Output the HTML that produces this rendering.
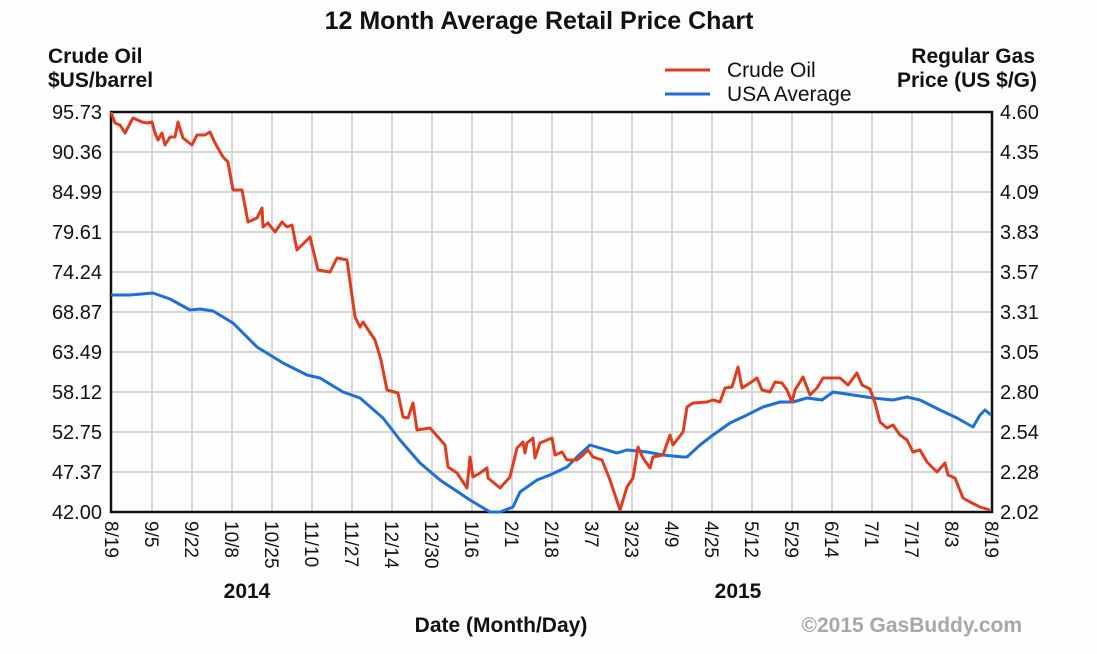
<!DOCTYPE html>
<html><head><meta charset="utf-8"><style>
html,body{margin:0;padding:0;background:#fff;}
svg{display:block;font-family:"Liberation Sans",Arial,sans-serif;}
</style></head><body>
<svg width="1097" height="654" viewBox="0 0 1097 654" xmlns="http://www.w3.org/2000/svg">
<rect width="1097" height="654" fill="#fdfdfd"/>
<text x="539" y="29" font-size="25" font-weight="bold" text-anchor="middle" fill="#111">12 Month Average Retail Price Chart</text>
<text x="48" y="63" font-size="21" font-weight="bold" fill="#111">Crude Oil</text>
<text x="48" y="87" font-size="21" font-weight="bold" fill="#111">$US/barrel</text>
<text x="1035" y="63" font-size="21" font-weight="bold" text-anchor="end" fill="#111">Regular Gas</text>
<text x="1037" y="87" font-size="21" font-weight="bold" text-anchor="end" fill="#111">Price (US $/G)</text>
<line x1="665" y1="70" x2="710" y2="70" stroke="#e03c1e" stroke-width="3"/>
<text x="727" y="77" font-size="21" fill="#111">Crude Oil</text>
<line x1="665" y1="94" x2="710" y2="94" stroke="#1e6fdc" stroke-width="3"/>
<text x="727" y="101" font-size="21" fill="#111">USA Average</text>
<g stroke="#d6d6d6" stroke-width="2">
<line x1="152" y1="112" x2="152" y2="512"/><line x1="192" y1="112" x2="192" y2="512"/><line x1="232" y1="112" x2="232" y2="512"/><line x1="272" y1="112" x2="272" y2="512"/><line x1="312" y1="112" x2="312" y2="512"/><line x1="352" y1="112" x2="352" y2="512"/><line x1="392" y1="112" x2="392" y2="512"/><line x1="432" y1="112" x2="432" y2="512"/><line x1="472" y1="112" x2="472" y2="512"/><line x1="512" y1="112" x2="512" y2="512"/><line x1="552" y1="112" x2="552" y2="512"/><line x1="592" y1="112" x2="592" y2="512"/><line x1="632" y1="112" x2="632" y2="512"/><line x1="672" y1="112" x2="672" y2="512"/><line x1="712" y1="112" x2="712" y2="512"/><line x1="752" y1="112" x2="752" y2="512"/><line x1="792" y1="112" x2="792" y2="512"/><line x1="832" y1="112" x2="832" y2="512"/><line x1="872" y1="112" x2="872" y2="512"/><line x1="912" y1="112" x2="912" y2="512"/><line x1="952" y1="112" x2="952" y2="512"/>
<line x1="111" y1="152" x2="992" y2="152"/><line x1="111" y1="192" x2="992" y2="192"/><line x1="111" y1="232" x2="992" y2="232"/><line x1="111" y1="272" x2="992" y2="272"/><line x1="111" y1="312" x2="992" y2="312"/><line x1="111" y1="352" x2="992" y2="352"/><line x1="111" y1="392" x2="992" y2="392"/><line x1="111" y1="432" x2="992" y2="432"/><line x1="111" y1="472" x2="992" y2="472"/>
</g>
<rect x="111" y="112" width="881" height="400" fill="none" stroke="#111" stroke-width="2.5"/>
<g font-size="20" fill="#111" text-anchor="end">
<text x="102" y="119">95.73</text><text x="102" y="159">90.36</text><text x="102" y="199">84.99</text><text x="102" y="239">79.61</text><text x="102" y="279">74.24</text><text x="102" y="319">68.87</text><text x="102" y="359">63.49</text><text x="102" y="399">58.12</text><text x="102" y="439">52.75</text><text x="102" y="479">47.37</text><text x="102" y="519">42.00</text>
</g>
<g font-size="20" fill="#111">
<text x="1000" y="119">4.60</text><text x="1000" y="159">4.35</text><text x="1000" y="199">4.09</text><text x="1000" y="239">3.83</text><text x="1000" y="279">3.57</text><text x="1000" y="319">3.31</text><text x="1000" y="359">3.05</text><text x="1000" y="399">2.80</text><text x="1000" y="439">2.54</text><text x="1000" y="479">2.28</text><text x="1000" y="519">2.02</text>
</g>
<g font-size="19" fill="#111">
<text transform="translate(105,521) rotate(90)">8/19</text>
<text transform="translate(145,521) rotate(90)">9/5</text>
<text transform="translate(185,521) rotate(90)">9/22</text>
<text transform="translate(225,521) rotate(90)">10/8</text>
<text transform="translate(265,521) rotate(90)">10/25</text>
<text transform="translate(305,521) rotate(90)">11/10</text>
<text transform="translate(345,521) rotate(90)">11/27</text>
<text transform="translate(385,521) rotate(90)">12/14</text>
<text transform="translate(425,521) rotate(90)">12/30</text>
<text transform="translate(465,521) rotate(90)">1/16</text>
<text transform="translate(505,521) rotate(90)">2/1</text>
<text transform="translate(545,521) rotate(90)">2/18</text>
<text transform="translate(585,521) rotate(90)">3/7</text>
<text transform="translate(625,521) rotate(90)">3/23</text>
<text transform="translate(665,521) rotate(90)">4/9</text>
<text transform="translate(705,521) rotate(90)">4/25</text>
<text transform="translate(745,521) rotate(90)">5/12</text>
<text transform="translate(785,521) rotate(90)">5/29</text>
<text transform="translate(825,521) rotate(90)">6/14</text>
<text transform="translate(865,521) rotate(90)">7/1</text>
<text transform="translate(905,521) rotate(90)">7/17</text>
<text transform="translate(945,521) rotate(90)">8/3</text>
<text transform="translate(985,521) rotate(90)">8/19</text>
</g>
<text x="247" y="598" font-size="21" font-weight="bold" text-anchor="middle" fill="#111">2014</text>
<text x="738" y="598" font-size="21" font-weight="bold" text-anchor="middle" fill="#111">2015</text>
<text x="501" y="632" font-size="21" font-weight="bold" text-anchor="middle" fill="#111">Date (Month/Day)</text>
<text x="1022" y="632" font-size="21" font-weight="bold" text-anchor="end" fill="#a8a8a8">©2015 GasBuddy.com</text>
<polyline fill="none" stroke="#1e6fdc" stroke-width="3" stroke-linejoin="round" points="111,295 130,295 153,293 170,299 190,310 200,309 213,311 233,323 257,347 283,363 307,375 320,378 343,392 360,398 383,418 400,440 420,463 440,480 452,488 470,500 490,512 500,512 513,507 520,492 537,480 550,475 567,467 577,457 590,445 600,448 617,453 627,450 647,452 663,455 683,457 687,457 700,445 713,435 730,423 747,415 763,407 780,402 793,402 807,398 822,400 833,392 853,395 873,398 893,400 907,397 920,400 940,410 957,418 973,427 980,415 985,410 991,415"/>
<polyline fill="none" stroke="#e03c1e" stroke-width="3" stroke-linejoin="round" points="111,112 115,123 120,125 125,133 133,118 142,122 147,123 152,122 155,133 158,140 162,133 165,145 170,137 175,137 178,122 183,138 192,145 197,135 205,135 210,132 215,143 223,157 228,162 233,190 242,190 248,222 257,218 262,208 263,227 268,223 275,232 282,222 287,227 292,225 297,250 310,237 318,270 330,272 337,258 347,260 355,317 360,327 363,322 375,340 381,360 387,390 398,393 403,417 408,418 413,403 417,430 430,428 438,437 445,445 448,467 457,473 467,488 470,457 473,477 480,473 487,468 488,478 500,488 510,477 517,448 523,442 525,453 527,443 533,438 535,458 540,443 552,438 555,455 562,452 567,460 577,460 583,455 588,450 593,457 602,460 610,480 620,510 627,487 633,478 638,447 643,458 650,468 653,457 663,455 670,435 673,445 683,432 687,407 693,403 707,402 713,400 720,402 725,388 732,387 738,367 742,388 750,383 757,378 762,390 770,392 775,382 782,383 787,390 792,402 795,390 803,377 810,395 817,388 823,378 840,378 848,385 857,373 862,385 870,389 875,403 880,422 887,428 893,425 900,435 907,440 913,452 920,450 927,462 937,472 945,463 948,475 955,478 963,498 970,502 980,507 990,510"/>
</svg>
</body></html>
